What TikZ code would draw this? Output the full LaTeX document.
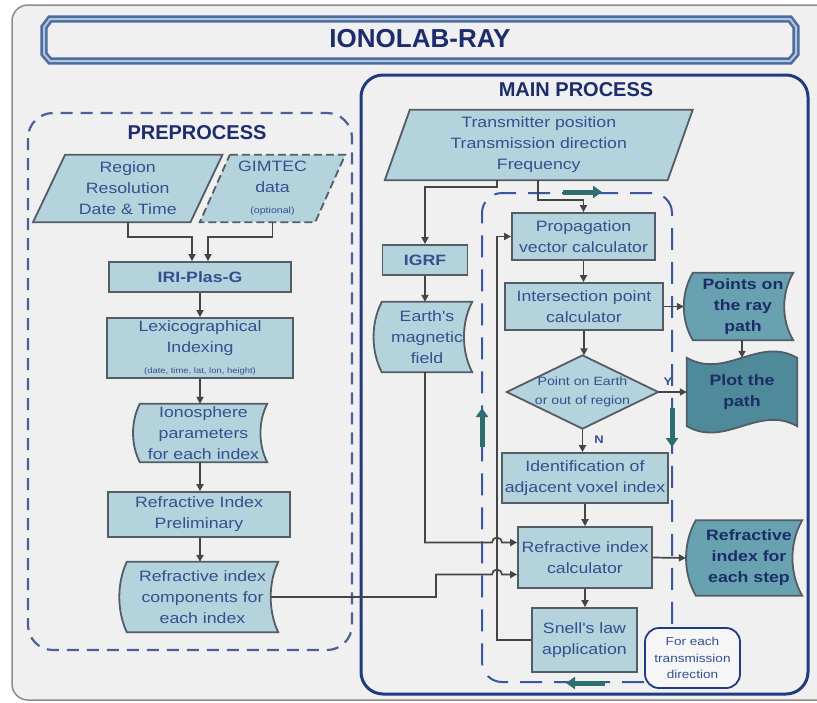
\documentclass[tikz,border=0pt]{standalone}
\usepackage{fontspec}
\setmainfont{Liberation Sans}
\newfontfamily\bodyfont[FakeStretch=1.18]{Liberation Sans}
\newfontfamily\headfont{Liberation Sans}
\usetikzlibrary{calc,arrows.meta}
\pgfdeclarelayer{back}
\pgfdeclarelayer{shp}
\pgfsetlayers{back,shp,main}
\definecolor{bgc}{HTML}{F0F0F0}
\definecolor{framec}{HTML}{8C8C8C}
\definecolor{boxfill}{HTML}{B4D3DC}
\definecolor{boxline}{HTML}{535D66}
\definecolor{txtc}{HTML}{33508F}
\definecolor{headc}{HTML}{1C2C6C}
\definecolor{darkfillA}{HTML}{68A2B0}
\definecolor{darkfillB}{HTML}{4F8A9A}
\definecolor{darktxtc}{HTML}{1A2D66}
\definecolor{mainc}{HTML}{1F3C80}
\definecolor{prec}{HTML}{4C5F98}
\definecolor{loopc}{HTML}{3A56A0}
\definecolor{tealc}{HTML}{2E6E70}
\definecolor{connc}{HTML}{454545}
\definecolor{bannerc}{HTML}{4D6D9E}
\definecolor{bannerl}{HTML}{B4C6DD}
\newcommand{\storedshape}[3]{%
  \path[#3] (#1.north west) -- (#1.north east)
    .. controls ($(#1.north east)!.3!(#1.south east)+(-#2,0)$) and ($(#1.north east)!.7!(#1.south east)+(-#2,0)$) .. (#1.south east)
    -- (#1.south west)
    .. controls ($(#1.south west)!.3!(#1.north west)+(-#2,0)$) and ($(#1.south west)!.7!(#1.north west)+(-#2,0)$) .. (#1.north west) -- cycle;}
\newcommand{\paraShape}[3]{%
  \path[#3] ([xshift=#2]#1.north west) -- ([xshift=#2]#1.north east) -- ([xshift=-#2]#1.south east) -- ([xshift=-#2]#1.south west) -- cycle;}
\newcommand{\tapeShape}[3]{%
  \path[#3] (#1.north west) .. controls ($(#1.north west)!.35!(#1.north east)+(0,#2)$) and ($(#1.north west)!.65!(#1.north east)+(0,-#2)$) .. (#1.north east)
    -- (#1.south east) .. controls ($(#1.south west)!.65!(#1.south east)+(0,-#2)$) and ($(#1.south west)!.35!(#1.south east)+(0,#2)$) .. (#1.south west) -- cycle;}
\begin{document}
\begin{tikzpicture}[x=1pt,y=-1pt,
  bodytxt/.style={text=txtc, font=\bodyfont\fontsize{15}{21}\selectfont, align=center, inner sep=0pt},
  rbox/.style={bodytxt, draw=boxline, fill=boxfill, line width=1.8pt},
  ghost/.style={bodytxt},
  darktxt/.style={text=darktxtc, font=\bodyfont\bfseries\fontsize{15}{21}\selectfont, align=center, inner sep=0pt},
  shpl/.style={draw=boxline, fill=boxfill, line width=1.8pt},
  shpA/.style={draw=boxline, fill=darkfillA, line width=1.8pt},
  shpB/.style={draw=boxline, fill=darkfillB, line width=1.8pt},
  head/.style={text=headc, font=\headfont\bfseries\fontsize{20}{24}\selectfont, inner sep=0pt},
  conn/.style={draw=connc, line width=1.7pt, -{Triangle[length=7pt,width=7pt]}},
  loopline/.style={draw=loopc, line width=2pt, dash pattern=on 22pt off 12pt, rounded corners=20pt},
  tealarrow/.style={draw=tealc, line width=5pt, -{Triangle[length=9pt,width=12pt]}},
  lbl/.style={text=txtc, font=\bodyfont\bfseries\fontsize{11}{12}\selectfont, inner sep=0pt}
]
\useasboundingbox (0,0) rectangle (817,702);
\begin{pgfonlayer}{back}
  \clip (0,0) rectangle (817,702);
  \fill[white] (0,0) rectangle (817,702);
  \draw[framec, line width=1.5pt, fill=bgc, rounded corners=16pt] (12,5) rectangle (845,700);
  \draw[bannerc, line width=2.6pt, double=bannerl, double distance=2pt]
    (50,19) -- (790,19) -- (796,27) -- (796,54) -- (790,61) -- (50,61) -- (44,54) -- (44,27) -- cycle;
  \draw[prec, line width=2.2pt, dash pattern=on 12pt off 8pt, rounded corners=25pt] (28,113) rectangle (352,650);
  \draw[mainc, line width=3pt, rounded corners=22pt] (361,75) rectangle (808,694);
\end{pgfonlayer}

% titles
\node[text=headc, font=\headfont\bfseries\fontsize{26}{30}\selectfont, inner sep=0pt] (title) at (420,39) {IONOLAB-RAY};
\node[head] (mainh) at (576,90) {MAIN PROCESS};
\node[head] (preh) at (197,133) {PREPROCESS};

% preprocess nodes
\node[ghost, minimum width=157pt, minimum height=67pt] (region) at (127.75,188.5) {Region\\Resolution\\Date \& Time};
\node[ghost, minimum width=115pt, minimum height=67pt] (gimtec) at (272.5,188.5) {GIMTEC\\data\\{\fontsize{9}{12}\selectfont (optional)}};
\node[rbox, minimum width=182pt, minimum height=30pt] (iri) at (200,277) {\bfseries IRI-Plas-G};
\node[rbox, minimum width=186pt, minimum height=60pt] (lex) at (200,348) {Lexicographical\\Indexing\\{\fontsize{8}{10}\selectfont (date, time, lat, lon, height)}};
\node[ghost, minimum width=127pt, minimum height=58pt] (iono) at (203.5,433) {Ionosphere\\parameters\\for each index};
\node[rbox, minimum width=182pt, minimum height=45pt] (rip) at (199,514.5) {Refractive Index\\Preliminary};
\node[ghost, minimum width=151pt, minimum height=70pt] (rcomp) at (202.5,597) {Refractive index\\components for\\each index};

% main process nodes
\node[ghost, minimum width=282.5pt, minimum height=70pt] (tx) at (538.75,145) {Transmitter position\\Transmission direction\\Frequency};
\node[rbox, minimum width=85pt, minimum height=30pt] (igrf) at (425,260) {\bfseries IGRF};
\node[ghost, minimum width=90pt, minimum height=70pt] (emf) at (427,337) {Earth's\\magnetic\\field};
\node[rbox, minimum width=143pt, minimum height=47pt] (prop) at (583.5,236.5) {Propagation\\vector calculator};
\node[rbox, minimum width=158pt, minimum height=47pt] (inter) at (584,306.5) {Intersection point\\calculator};
\node[ghost, minimum width=151pt, minimum height=73pt, font=\bodyfont\fontsize{12}{19}\selectfont] (dia) at (582.5,392) {Point on Earth\\or out of region};
\node[rbox, minimum width=166pt, minimum height=50pt] (ident) at (585,478) {Identification of\\adjacent voxel index};
\node[rbox, minimum width=134pt, minimum height=61pt] (rcalc) at (585,557.5) {Refractive index\\calculator};
\node[rbox, minimum width=105pt, minimum height=64pt] (snell) at (584.5,640) {Snell's law\\application};
\node[bodytxt, draw=mainc, line width=1.8pt, fill=bgc!60!white, rounded corners=14pt, minimum width=95pt, minimum height=60pt, font=\bodyfont\fontsize{11.5}{16.5}\selectfont] (forbox) at (692.5,658) {For each\\transmission\\direction};
\node[darktxt, minimum width=100pt, minimum height=67pt] (pts) at (743,306.5) {Points on\\the ray\\path};
\node[darktxt, minimum width=110pt, minimum height=68pt] (plot) at (742,392) {Plot the\\path};
\node[darktxt, minimum width=106pt, minimum height=75pt] (rstep) at (749,558) {Refractive\\index for\\each step};

% shapes
\begin{pgfonlayer}{shp}
  \paraShape{region}{16pt}{shpl}
  \paraShape{gimtec}{15pt}{shpl, dashed, dash pattern=on 8pt off 4pt}
  \paraShape{tx}{12.5pt}{shpl}
  \storedshape{iono}{9}{shpl}
  \storedshape{rcomp}{10}{shpl}
  \storedshape{emf}{11}{shpl}
  \storedshape{pts}{12}{shpA}
  \storedshape{rstep}{13}{shpA}
  \tapeShape{plot}{22}{shpB}
  \path[shpl] (dia.north) -- (dia.east) -- (dia.south) -- (dia.west) -- cycle;
  % inner loop
  \coordinate (lpbl) at (482,682);
  \coordinate (lptl) at (482,193);
  \coordinate (lptr) at (672,193);
  \draw[loopline] (forbox.west |- lpbl) -- (lpbl) -- (lptl) -- (lptr) -- (lptr |- forbox.north);
\end{pgfonlayer}

% teal direction arrows
\coordinate (ta1) at (563,192); \coordinate (tb1) at (602,192);
\coordinate (ta2) at (672,408); \coordinate (tb2) at (672,447);
\coordinate (ta3) at (605,683); \coordinate (tb3) at (566,683);
\coordinate (ta4) at (482,447); \coordinate (tb4) at (482,408);
\draw[tealarrow] (ta1) -- (tb1);
\draw[tealarrow] (ta2) -- (tb2);
\draw[tealarrow] (ta3) -- (tb3);
\draw[tealarrow] (ta4) -- (tb4);

% preprocess connectors
\coordinate (ja) at (192,237);
\coordinate (jb) at (208,237);
\draw[conn] (region.south) |- (ja) -- (ja |- iri.north);
\draw[conn] (gimtec.south) |- (jb) -- (jb |- iri.north);
\draw[conn] (iri.south) -- (iri.south |- lex.north);
\draw[conn] (lex.south) -- (lex.south |- iono.north);
\draw[conn] (iono.south -| lex.south) -- (lex.south |- rip.north);
\draw[conn] (rip.south -| lex.south) -- (lex.south |- rcomp.north);

% main connectors
\coordinate (t1) at (497,187);
\coordinate (t2) at (538,200);
\draw[conn] (t1 |- tx.south) -- (t1) -| (igrf.north);
\draw[conn] (t2 |- tx.south) -- (t2) -| (prop.north);
\draw[conn] (igrf.south) -- (igrf.south |- emf.north);
\draw[conn] (prop.south) -- (prop.south |- inter.north);
\draw[conn] (inter.south) -- (inter.south |- dia.north);
\draw[conn] (dia.south) -- (dia.south |- ident.north);
\draw[conn] (ident.south) -- (ident.south |- rcalc.north);
\draw[conn] (rcalc.south) -- (rcalc.south |- snell.north);
\coordinate (ptsin) at ([xshift=-9pt]pts.west);
\coordinate (rstepin) at ([xshift=-10pt]rstep.west);
\draw[conn] (inter.east) -- (ptsin);
\draw[conn] (dia.east) -- (plot.west);
\draw[conn] (pts.south -| plot.north) -- (plot.north);
\draw[conn] (rcalc.east) -- (rstepin);
\node[lbl] (ylab) at (668,382) {Y};
\node[lbl] (nlab) at (599,440) {N};

% feedback loop line
\coordinate (fb) at (497,0);
\coordinate (fbL) at (492,0);
\draw[conn] (snell.west) -- (snell.west -| fb) -- (fb |- prop.west) -- (prop.west);

% lines with hops into refractive index calculator
\coordinate (h1) at ([yshift=15pt]rcalc.west);
\coordinate (h2) at ([yshift=-17pt]rcalc.west);
\coordinate (jg) at (436,0);
\coordinate (rc0) at ([xshift=-7pt]rcomp.east);
\draw[conn] (emf.south -| igrf.south) -- (igrf.south |- h1) -- (fbL |- h1) arc[start angle=180, end angle=0, radius=5pt] -- (h1);
\draw[conn] (rc0) -- (rc0 -| jg) -- (jg |- h2) -- (fbL |- h2) arc[start angle=180, end angle=0, radius=5pt] -- (h2);
\end{tikzpicture}
\end{document}
